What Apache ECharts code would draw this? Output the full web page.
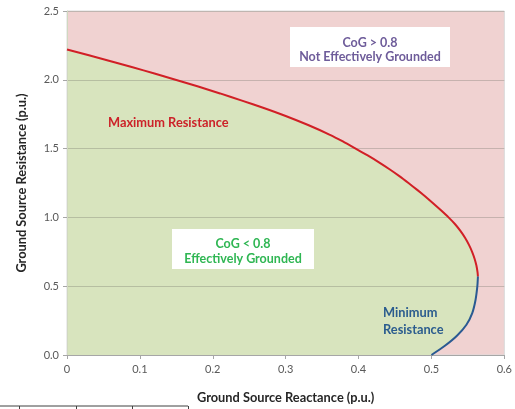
<!DOCTYPE html>
<html>
<head>
<meta charset="utf-8">
<script src="https://cdn.jsdelivr.net/npm/echarts@6/dist/echarts.min.js"></script>
<style>
  html, body { margin: 0; padding: 0; background: #ffffff; }
  #chart { width: 515px; height: 409px; }
</style>
</head>
<body>
<div id="chart"></div>
<script>
// Boundary of the effectively-grounded region, [reactance, resistance] in p.u.
const maxResistance = [
  [0.000, 2.220], [0.030, 2.178], [0.060, 2.135], [0.090, 2.091], [0.120, 2.046],
  [0.150, 1.999], [0.180, 1.951], [0.210, 1.901], [0.240, 1.849], [0.270, 1.795],
  [0.300, 1.737], [0.330, 1.673], [0.360, 1.602], [0.3785, 1.552], [0.396, 1.500],
  [0.4125, 1.450], [0.428, 1.400], [0.4425, 1.350], [0.456, 1.300], [0.4685, 1.250],
  [0.4805, 1.200], [0.492, 1.150], [0.503, 1.100], [0.5135, 1.050], [0.5235, 1.000],
  [0.5325, 0.950], [0.540, 0.900], [0.5463, 0.850], [0.5515, 0.800], [0.5558, 0.750],
  [0.5592, 0.700], [0.5617, 0.650], [0.5633, 0.600], [0.5638, 0.570]
];
const minResistance = [
  [0.5638, 0.570], [0.5630, 0.500], [0.5605, 0.400], [0.556, 0.305], [0.548, 0.220],
  [0.535, 0.140], [0.518, 0.065], [0.500, 0.000]
];

const xTickLabels = ['0', '0.1', '0.2', '0.3', '0.4', '0.5', '0.6'];
const yTickLabels = ['0.0', '0.5', '1.0', '1.5', '2.0', '2.5'];

const regionNotGrounded = ['CoG > 0.8', 'Not Effectively Grounded'];
const regionGrounded = ['CoG < 0.8', 'Effectively Grounded'];
const maxLabel = 'Maximum Resistance';
const minLabel = ['Minimum', 'Resistance'];

const FONT = 'Lato, "Open Sans", sans-serif';

const chart = echarts.init(document.getElementById('chart'), null, { renderer: 'canvas' });

// Closed outline of the green region: both curves, then back along the x axis.
const regionOutline = maxResistance.concat(minResistance.slice(1), [[0, 0]]);

chart.setOption({
  animation: false,
  backgroundColor: '#ffffff',
  grid: {
    left: 67, right: 5, top: 11, bottom: 46,
    show: true,
    backgroundColor: '#F0D2D1',
    borderColor: '#DADADA',
    borderWidth: 1
  },
  xAxis: {
    type: 'value',
    min: 0, max: 0.6, interval: 0.1,
    z: 3,
    name: 'Ground Source Reactance (p.u.)',
    nameLocation: 'middle',
    nameGap: 36,
    nameTextStyle: { fontFamily: FONT, fontWeight: 'bold', fontSize: 12.8, color: '#262626' },
    axisLine: { show: true, lineStyle: { color: '#A6A6A6', width: 1 } },
    axisTick: { show: true, length: 4, lineStyle: { color: '#A6A6A6' } },
    axisLabel: {
      margin: 9,
      fontFamily: FONT, fontSize: 11, color: '#595959',
      formatter: (v) => xTickLabels[Math.round(v * 10)]
    },
    splitLine: { show: false }
  },
  yAxis: {
    type: 'value',
    min: 0, max: 2.5, interval: 0.5,
    z: 3,
    name: 'Ground Source Resistance (p.u.)',
    nameLocation: 'middle',
    nameGap: 39,
    nameTextStyle: { fontFamily: FONT, fontWeight: 'bold', fontSize: 12.8, color: '#262626' },
    axisLine: { show: true, lineStyle: { color: '#D0D8C0', width: 1 } },
    axisTick: { show: true, length: 4, lineStyle: { color: '#A6A6A6' } },
    axisLabel: {
      margin: 8,
      fontFamily: FONT, fontSize: 11, color: '#595959',
      formatter: (v) => yTickLabels[Math.round(v * 2)]
    },
    splitLine: { show: true, lineStyle: { color: 'rgba(120,120,110,0.35)', width: 1 } }
  },
  series: [
    {
      // Green fill for the effectively grounded region
      type: 'custom',
      z: 1,
      silent: true,
      data: [0],
      renderItem: (params, api) => ({
        type: 'polygon',
        shape: { points: regionOutline.map((p) => api.coord(p)) },
        style: { fill: '#D8E4BE', stroke: null }
      })
    },
    {
      name: maxLabel,
      type: 'line',
      z: 5,
      data: maxResistance,
      smooth: 0.2,
      symbol: 'none',
      lineStyle: { color: '#D11F26', width: 2 }
    },
    {
      name: 'Minimum Resistance',
      type: 'line',
      z: 5,
      data: minResistance,
      smooth: 0.2,
      symbol: 'none',
      lineStyle: { color: '#2A5A92', width: 2 }
    }
  ],
  graphic: [
    // Upper region label box
    { type: 'rect', z: 10, shape: { x: 290, y: 27, width: 160, height: 40 }, style: { fill: '#ffffff' } },
    { type: 'text', z: 11, style: { x: 370, y: 43, text: regionNotGrounded[0], align: 'center', verticalAlign: 'middle',
      font: 'bold 12.5px ' + FONT, fill: '#6E5C9A' } },
    { type: 'text', z: 11, style: { x: 370, y: 57, text: regionNotGrounded[1], align: 'center', verticalAlign: 'middle',
      font: 'bold 12.5px ' + FONT, fill: '#6E5C9A' } },
    // Lower region label box
    { type: 'rect', z: 10, shape: { x: 172, y: 229, width: 142, height: 40 }, style: { fill: '#ffffff' } },
    { type: 'text', z: 11, style: { x: 243, y: 244, text: regionGrounded[0], align: 'center', verticalAlign: 'middle',
      font: 'bold 12.5px ' + FONT, fill: '#2FB653' } },
    { type: 'text', z: 11, style: { x: 243, y: 259, text: regionGrounded[1], align: 'center', verticalAlign: 'middle',
      font: 'bold 12.5px ' + FONT, fill: '#2FB653' } },
    // Curve labels
    { type: 'text', z: 11, style: { x: 108, y: 123, text: maxLabel, align: 'left', verticalAlign: 'middle',
      font: 'bold 12.8px ' + FONT, fill: '#CC2229' } },
    { type: 'text', z: 11, style: { x: 383, y: 313, text: minLabel[0], align: 'left', verticalAlign: 'middle',
      font: 'bold 12.8px ' + FONT, fill: '#2B5C8E' } },
    { type: 'text', z: 11, style: { x: 383, y: 330, text: minLabel[1], align: 'left', verticalAlign: 'middle',
      font: 'bold 12.8px ' + FONT, fill: '#2B5C8E' } },
    // Edge of the table below the chart
    { type: 'line', z: 10, shape: { x1: 0, y1: 406, x2: 188, y2: 406 }, style: { stroke: '#404040', lineWidth: 1 } },
    { type: 'line', z: 10, shape: { x1: 19.5, y1: 406, x2: 19.5, y2: 409 }, style: { stroke: '#404040', lineWidth: 1 } },
    { type: 'line', z: 10, shape: { x1: 76.5, y1: 406, x2: 76.5, y2: 409 }, style: { stroke: '#404040', lineWidth: 1 } },
    { type: 'line', z: 10, shape: { x1: 132.5, y1: 406, x2: 132.5, y2: 409 }, style: { stroke: '#404040', lineWidth: 1 } },
    { type: 'line', z: 10, shape: { x1: 188.5, y1: 406, x2: 188.5, y2: 409 }, style: { stroke: '#404040', lineWidth: 1 } }
  ]
});
</script>
</body>
</html>
